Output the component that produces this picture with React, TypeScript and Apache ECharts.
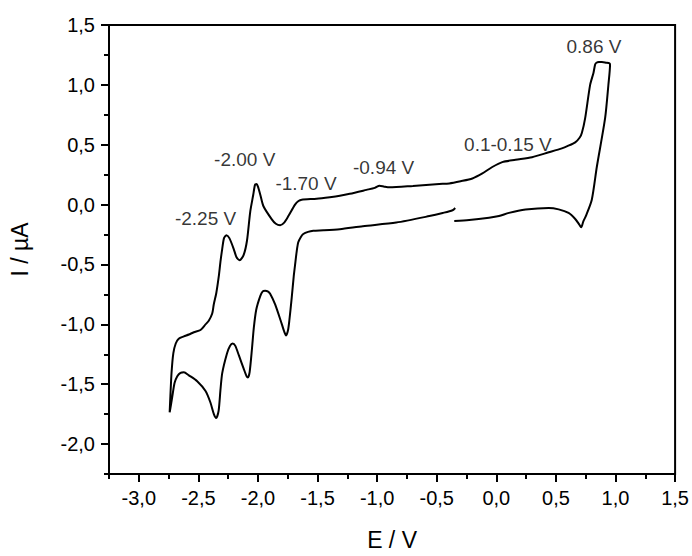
import React, { useEffect, useRef } from 'react';
import * as echarts from 'echarts';

// Cyclic voltammogram trace (E in V, I in µA), in scan order
const potentialV = [
  -0.353, -0.228, -0.061, 0.022, 0.106, 0.245, 0.44, 0.523, 0.606, 0.662, 0.695, 0.712,
  0.73, 0.751, 0.801, 0.843, 0.913, 0.94, 0.954,
  0.95, 0.92, 0.885, 0.86, 0.84, 0.829,
  0.815, 0.787, 0.745, 0.718, 0.7, 0.662, 0.6, 0.55, 0.44, 0.3, 0.161, 0.05, -0.034, -0.117,
  -0.201, -0.3, -0.395, -0.479, -0.7, -0.896, -0.94, -0.98, -1.02, -1.09, -1.23, -1.313,
  -1.397, -1.508, -1.633, -1.66, -1.689, -1.745, -1.78, -1.814, -1.85, -1.884, -1.954,
  -1.98, -2.0, -2.012, -2.025, -2.04, -2.065, -2.092, -2.12, -2.154, -2.18, -2.204, -2.24,
  -2.265, -2.285, -2.3, -2.315, -2.329, -2.35, -2.371, -2.384, -2.413, -2.44, -2.482,
  -2.538, -2.58, -2.622, -2.665, -2.69, -2.71, -2.725, -2.735, -2.741,
  -2.728, -2.718, -2.7, -2.677, -2.65, -2.622, -2.58, -2.51, -2.44, -2.399, -2.37, -2.351,
  -2.33, -2.315, -2.3, -2.26, -2.235, -2.212, -2.19, -2.16, -2.12, -2.095, -2.084, -2.07,
  -2.05, -2.035, -2.015, -1.981, -1.96, -1.94, -1.918, -1.898, -1.856, -1.8, -1.78, -1.764,
  -1.748, -1.737, -1.717, -1.7, -1.689, -1.675, -1.662, -1.64, -1.62, -1.58, -1.536, -1.45,
  -1.313, -1.12, -0.84, -0.562, -0.45, -0.367, -0.345,
];
const currentUA = [
  -0.137, -0.129, -0.11, -0.096, -0.069, -0.041, -0.028, -0.04, -0.07, -0.12, -0.165, -0.19,
  -0.14, -0.096, 0.041, 0.314, 0.724, 0.997, 1.169,
  1.18, 1.185, 1.19, 1.19, 1.185, 1.17,
  1.1, 1.0, 0.72, 0.6, 0.56, 0.52, 0.49, 0.47, 0.437, 0.396, 0.374, 0.355, 0.314, 0.26,
  0.218, 0.195, 0.177, 0.172, 0.156, 0.144, 0.15, 0.158, 0.14, 0.123, 0.09, 0.074,
  0.062, 0.049, 0.041, 0.03, 0.0, -0.096, -0.15, -0.172, -0.16, -0.123, -0.014,
  0.08, 0.15, 0.172, 0.165, 0.08, -0.06, -0.3, -0.42, -0.465, -0.44, -0.369, -0.28,
  -0.255, -0.28, -0.369, -0.479, -0.6, -0.74, -0.834, -0.91, -0.97, -1.0, -1.047,
  -1.066, -1.085, -1.101, -1.12, -1.16, -1.24, -1.4, -1.6, -1.735,
  -1.66, -1.598, -1.49, -1.434, -1.405, -1.4, -1.426, -1.475, -1.557, -1.653, -1.75, -1.782,
  -1.72, -1.55, -1.407, -1.243, -1.18, -1.161, -1.18, -1.26, -1.37, -1.435, -1.443, -1.4,
  -1.2, -1.03, -0.88, -0.765, -0.725, -0.719, -0.725, -0.745, -0.834, -0.998, -1.06, -1.093,
  -1.05, -0.97, -0.779, -0.6, -0.506, -0.39, -0.315, -0.27, -0.246, -0.228, -0.219, -0.215,
  -0.205, -0.18, -0.15, -0.096, -0.07, -0.047, -0.028,
];

// Peak annotations (label text and its centre in data coordinates)
const peakLabels = ['-2.25 V', '-2.00 V', '-1.70 V', '-0.94 V', '0.1-0.15 V', '0.86 V'];
const peakLabelE = [-2.44, -2.111, -1.597, -0.946, 0.097, 0.819];
const peakLabelI = [-0.118, 0.38, 0.175, 0.314, 0.5, 1.322];

// Axis ticks
const xMajorTicks = [-3, -2.5, -2, -1.5, -1, -0.5, 0, 0.5, 1, 1.5];
const xMinorTicks = [-3.25, -2.75, -2.25, -1.75, -1.25, -0.75, -0.25, 0.25, 0.75, 1.25];
const yMajorTicks = [-2, -1.5, -1, -0.5, 0, 0.5, 1, 1.5];
const yMinorTicks = [-2.25, -1.75, -1.25, -0.75, -0.25, 0.25, 0.75, 1.25];

const FONT = '"Liberation Sans", Arial, Helvetica, sans-serif';

export default function App() {
  const ref = useRef<HTMLDivElement>(null);
  useEffect(() => {
    document.body.style.margin = '0';
    const chart = echarts.init(ref.current!, null, { renderer: 'svg' });
    const fmt = (v: number) => Number(v).toFixed(1).replace('.', ',');
    const axisLine = { show: true, onZero: false, lineStyle: { color: '#000', width: 2 } };
    const hiddenLine = { show: false, onZero: false };
    const xRange = { min: -3.25, max: 1.5 };
    const yRange = { min: -2.25, max: 1.5 };
    const option: any = {
      animation: false,
      backgroundColor: '#fff',
      textStyle: { fontFamily: FONT },
      grid: {
        left: 108, top: 25, right: 16, bottom: 74,
        show: true, borderColor: '#000', borderWidth: 2, backgroundColor: 'transparent',
      },
      xAxis: [
        {
          type: 'value', ...xRange, position: 'bottom',
          axisLine,
          axisTick: { show: true, inside: false, length: 8, lineStyle: { color: '#000', width: 2 }, customValues: xMajorTicks },
          axisLabel: { show: true, customValues: xMajorTicks, formatter: fmt, color: '#000', fontSize: 20, margin: 14, fontFamily: FONT },
          splitLine: { show: false },
          name: 'E / V', nameLocation: 'middle', nameGap: 54,
          nameTextStyle: { color: '#000', fontSize: 23, fontFamily: FONT },
        },
        {
          type: 'value', ...xRange, position: 'bottom',
          axisLine: hiddenLine,
          axisTick: { show: true, inside: false, length: 5, lineStyle: { color: '#000', width: 2 }, customValues: xMinorTicks },
          axisLabel: { show: false, customValues: xMinorTicks },
          splitLine: { show: false },
        },
      ],
      yAxis: [
        {
          type: 'value', ...yRange, position: 'left',
          axisLine,
          axisTick: { show: true, inside: false, length: 8, lineStyle: { color: '#000', width: 2 }, customValues: yMajorTicks },
          axisLabel: { show: true, customValues: yMajorTicks, formatter: fmt, color: '#000', fontSize: 20, margin: 14, fontFamily: FONT },
          splitLine: { show: false },
          name: 'I / µA', nameLocation: 'middle', nameGap: 78, nameRotate: 90,
          nameTextStyle: { color: '#000', fontSize: 23, fontFamily: FONT },
        },
        {
          type: 'value', ...yRange, position: 'left',
          axisLine: hiddenLine,
          axisTick: { show: true, inside: false, length: 5, lineStyle: { color: '#000', width: 2 }, customValues: yMinorTicks },
          axisLabel: { show: false, customValues: yMinorTicks },
          splitLine: { show: false },
        },
      ],
      series: [
        {
          type: 'line', xAxisIndex: 0, yAxisIndex: 0,
          data: potentialV.map((e, i) => [e, currentUA[i]]),
          showSymbol: false, symbol: 'none', smooth: 0.25,
          lineStyle: { color: '#000', width: 2 },
          silent: true,
        },
        {
          type: 'scatter', xAxisIndex: 0, yAxisIndex: 0,
          data: peakLabels.map((t, i) => [peakLabelE[i], peakLabelI[i], t]),
          symbolSize: 1, itemStyle: { color: 'rgba(0,0,0,0)' },
          label: {
            show: true, position: 'inside', formatter: (p: any) => p.data[2],
            color: '#000', fontSize: 19, fontFamily: FONT,
          },
          silent: true,
        },
      ],
    };
    chart.setOption(option);
    return () => chart.dispose();
  }, []);
  return <div ref={ref} style={{ width: 692, height: 556 }} />;
}
